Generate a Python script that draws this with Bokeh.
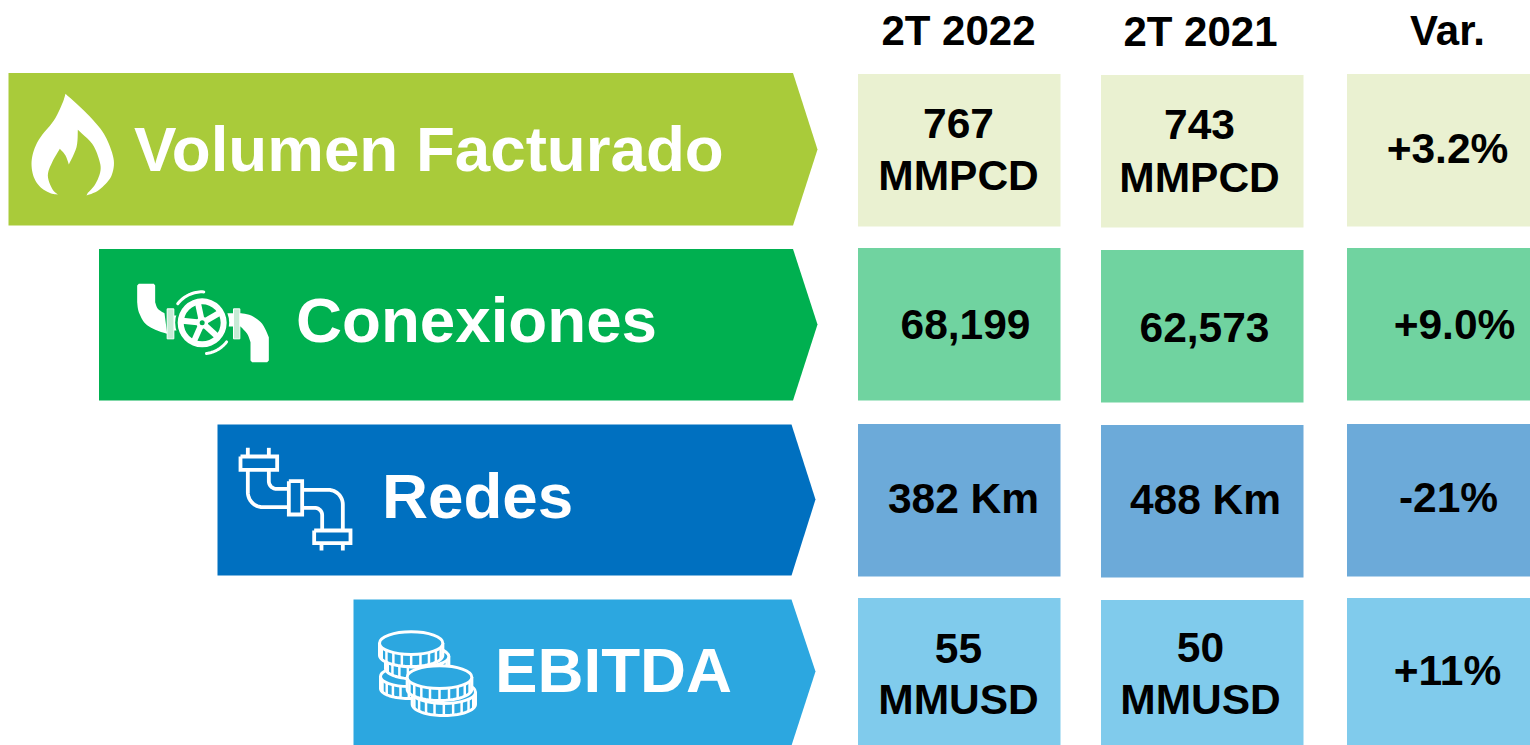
import numpy as np
from bokeh.plotting import figure
from bokeh.models import Range1d
from bokeh.core.properties import value
from bokeh.embed import file_html
from bokeh.resources import INLINE

# ---------- content ----------
headers = ["2T 2022", "2T 2021", "Var."]
categories = ["Volumen Facturado", "Conexiones", "Redes", "EBITDA"]
values_2022 = ["767\nMMPCD", "68,199", "382 Km", "55\nMMUSD"]
values_2021 = ["743\nMMPCD", "62,573", "488 Km", "50\nMMUSD"]
variation = ["+3.2%", "+9.0%", "-21%", "+11%"]

# ---------- styles ----------
strong = ["#A9CB3A", "#00B050", "#0070C0", "#2CA7E0"]
light = ["#EAF1D1", "#70D3A0", "#6CAAD9", "#80CBEC"]
FONT = value("Liberation Sans")

# ---------- layout (page pixels) ----------
W, H = 1530, 745
arrow_left = [8, 98.5, 217, 353]
arrow_right = [792.5, 792.5, 791, 791]
arrow_tip = [817, 817, 815, 815]
arrow_top = [72.5, 248.5, 424, 599]
arrow_bot = [225, 400, 575, 745]
arrow_mid = [149, 324, 499, 671]
label_x = [133.5, 295.5, 381.5, 494.5]
label_y = [148, 319, 495, 669]
cols_l = [857.5, 1100.5, 1346.5]
cols_r = [1060, 1303, 1530]
cell_top = [[73.5, 74.5, 73.5], [247.5, 249.5, 247.5], [423.5, 424.5, 423.5], [597.5, 599.5, 597.5]]
cell_bot = [[226, 227, 226], [400, 402, 400], [576, 577, 576], [745, 745, 745]]
header_x = [958, 1200, 1447]
header_y = [30, 30.5, 30]
val_x = [[958, 1199, 1447], [965, 1204, 1454], [963, 1205, 1448], [958, 1200, 1447]]
val_y = [[[123, 175], [124, 177], [148]], [[324], [327], [324]],
         [[498], [499], [497]], [[648, 699], [647, 699], [670]]]

p = figure(width=W, height=H, x_range=Range1d(0, W), y_range=Range1d(H, 0),
           output_backend="svg", toolbar_location=None, min_border=0,
           outline_line_color=None, background_fill_color="white", border_fill_color="white")
p.axis.visible = False
p.grid.visible = False
p.xaxis.visible = False
p.yaxis.visible = False


def txt(x, y, s, size, color):
    p.text([x], [y], text=[s], text_font=FONT, text_font_style="bold", text_font_size=size,
           text_color=color, text_align="center", text_baseline="middle")


def zoomed(pts, ox, oy):
    a = np.array(pts, dtype=float) / 3.0
    return a[:, 0] + ox, a[:, 1] + oy


def smooth(pts, n=6):
    """Catmull-Rom through an open run of outline points."""
    a = np.array(pts, dtype=float)
    b = np.vstack([a[0], a, a[-1]])
    out = []
    for i in range(1, len(b) - 2):
        for t in np.linspace(0, 1, n, endpoint=False):
            out.append(0.5 * (2 * b[i] + (b[i + 1] - b[i - 1]) * t
                              + (2 * b[i - 1] - 5 * b[i] + 4 * b[i + 1] - b[i + 2]) * t ** 2
                              + (3 * b[i] - b[i - 1] - 3 * b[i + 1] + b[i + 2]) * t ** 3))
    out.append(a[-1])
    return [tuple(q) for q in out]


# arrows + labels
for i, c in enumerate(categories):
    p.patch([arrow_left[i], arrow_right[i], arrow_tip[i], arrow_right[i], arrow_left[i]],
            [arrow_top[i], arrow_top[i], arrow_mid[i], arrow_bot[i], arrow_bot[i]],
            fill_color=strong[i], line_color=None)
    p.text([label_x[i]], [label_y[i]], text=[c], text_font=FONT, text_font_style="bold",
           text_font_size="63.7px", text_color="white", text_align="left", text_baseline="middle")

# cells
for i in range(4):
    for j, vals in enumerate([values_2022, values_2021, variation]):
        p.quad(left=[cols_l[j]], right=[cols_r[j]], top=[cell_top[i][j]], bottom=[cell_bot[i][j]],
               fill_color=light[i], line_color=None)
        for k, s in enumerate(vals[i].split("\n")):
            txt(val_x[i][j], val_y[i][j][k], s, "42.5px", "black")

for j, h in enumerate(headers):
    txt(header_x[j], header_y[j], h, "42px", "black")

# ---------- icons ----------
# flame: smooth runs between its sharp corners
flame_runs = [
    [(195, 100), (250, 150), (300, 205), (325, 250), (340, 300), (335, 340), (320, 365), (290, 392), (258, 405)],
    [(262, 397), (285, 370), (300, 330), (295, 295), (275, 250), (232, 208)],
    [(232, 208), (228, 260), (205, 312)],
    [(205, 312), (195, 285), (178, 265)],
    [(178, 265), (155, 305), (142, 345), (155, 385), (172, 402)],
    [(172, 402), (150, 398), (120, 380), (100, 350), (93, 310), (100, 270), (120, 230), (160, 180), (185, 130), (195, 100)],
]
flame = []
for run in flame_runs:
    flame += smooth(run)
fx, fy = zoomed(flame, 0, 60)
p.patch(fx, fy, fill_color="white", line_color=None)

# valve
OX, OY = 120, 270
left_pipe = [(50, 45), (55, 40), (100, 40), (104, 45)] + smooth([(104, 95), (112, 115), (132, 128)]) + \
            smooth([(140, 190), (110, 180), (75, 160), (55, 125), (50, 95)])
right_pipe = [(320, 128)] + smooth([(358, 128), (392, 135), (425, 160), (445, 200)]) + \
             [(445, 270), (440, 275), (395, 275), (390, 270)] + smooth([(390, 215), (380, 190), (360, 168)]) + [(320, 168)]
for poly in (left_pipe, right_pipe, [(160, 135), (180, 135), (180, 180), (160, 180)]):
    x, y = zoomed(poly, OX, OY)
    p.patch(x, y, fill_color="white", line_color=None)
for (a, b) in ((140, 160), (339, 358)):
    x, y = zoomed([(a, 115), (b, 115), (b, 205), (a, 205)], OX, OY)
    p.patch(x, y, fill_color="#C6EBD5", line_color="white", line_width=1)
cx, cy = 245 / 3 + OX, 157 / 3 + OY
p.circle([cx], [cy], radius=27, fill_color=strong[1], line_color=None)
p.annulus([cx], [cy], inner_radius=18.5, outer_radius=24.5, fill_color="white", line_color=None)
for deg in (102, 30, -42, -114, 174):
    t = np.radians(deg)
    p.line([cx, cx + 20 * np.cos(t)], [cy, cy - 20 * np.sin(t)], line_color="white", line_width=6)
p.circle([cx], [cy], radius=6, fill_color="white", line_color=None)
p.circle([cx], [cy], radius=2.5, fill_color=strong[1], line_color=None)
for d0, d1 in ((87, 142), (278, 322)):
    t = np.radians(np.linspace(d0, d1, 20))
    p.line(cx + 31 * np.cos(t), cy - 31 * np.sin(t), line_color="white", line_width=3, line_cap="round")

# pipes
OX, OY = 225, 440


def arcpts(c, r, d0, d1):
    t = np.radians(np.linspace(d0, d1, 14))
    return [(c[0] + r * np.cos(a), c[1] - r * np.sin(a)) for a in t]


pipe_rects = [(45, 48, 155, 88), (190, 122, 230, 222), (266, 270, 375, 308)]
pipe_lines = [
    [(67, 22), (67, 48)], [(130, 22), (130, 48)], [(288, 308), (288, 330)], [(352, 308), (352, 330)],
    [(67, 88), (67, 155)] + arcpts((112, 155), 45, 180, 270) + [(190, 200)],
    [(130, 88), (130, 122)] + arcpts((153, 122), 23, 180, 270) + [(190, 145)],
    [(230, 148), (308, 148)] + arcpts((308, 192), 44, 90, 0) + [(352, 268)],
    [(230, 202), (268, 202)] + arcpts((268, 224), 22, 90, 0) + [(290, 268)],
]
for x0, y0, x1, y1 in pipe_rects:
    x, y = zoomed([(x0, y0), (x1, y0), (x1, y1), (x0, y1), (x0, y0)], OX, OY)
    p.line(x, y, line_color="white", line_width=3.8, line_join="miter")
for ln in pipe_lines:
    x, y = zoomed(ln, OX, OY)
    p.line(x, y, line_color="white", line_width=3.8)

# coins
OX, OY = 365, 620
coins = [(130, 168, 85, 30, 36), (155, 108, 95, 32, 36), (137, 68, 95, 34, 36),
         (235, 215, 95, 34, 36), (222, 170, 97, 34, 36)]
coin_ribs = 9
for c_x, c_y, rx, ry, h in coins:
    t = np.linspace(0, np.pi, 40)
    lower = [(c_x + rx * np.cos(a), c_y + h + ry * np.sin(a)) for a in t]
    side = [(c_x + rx, c_y)] + lower + [(c_x - rx, c_y)]
    x, y = zoomed(side, OX, OY)
    p.patch(x, y, fill_color=strong[3], line_color="white", line_width=3)
    for a in np.linspace(0.12 * np.pi, 0.88 * np.pi, coin_ribs):
        rib = [(c_x + rx * np.cos(a), c_y + ry * np.sin(a)), (c_x + rx * np.cos(a), c_y + h + ry * np.sin(a))]
        x, y = zoomed(rib, OX, OY)
        p.line(x, y, line_color="white", line_width=2.5)
    p.ellipse([c_x / 3 + OX], [c_y / 3 + OY], width=[2 * rx / 3], height=[2 * ry / 3],
              fill_color=strong[3], line_color="white", line_width=3)

open("out.html", "w").write(file_html(p, INLINE))
